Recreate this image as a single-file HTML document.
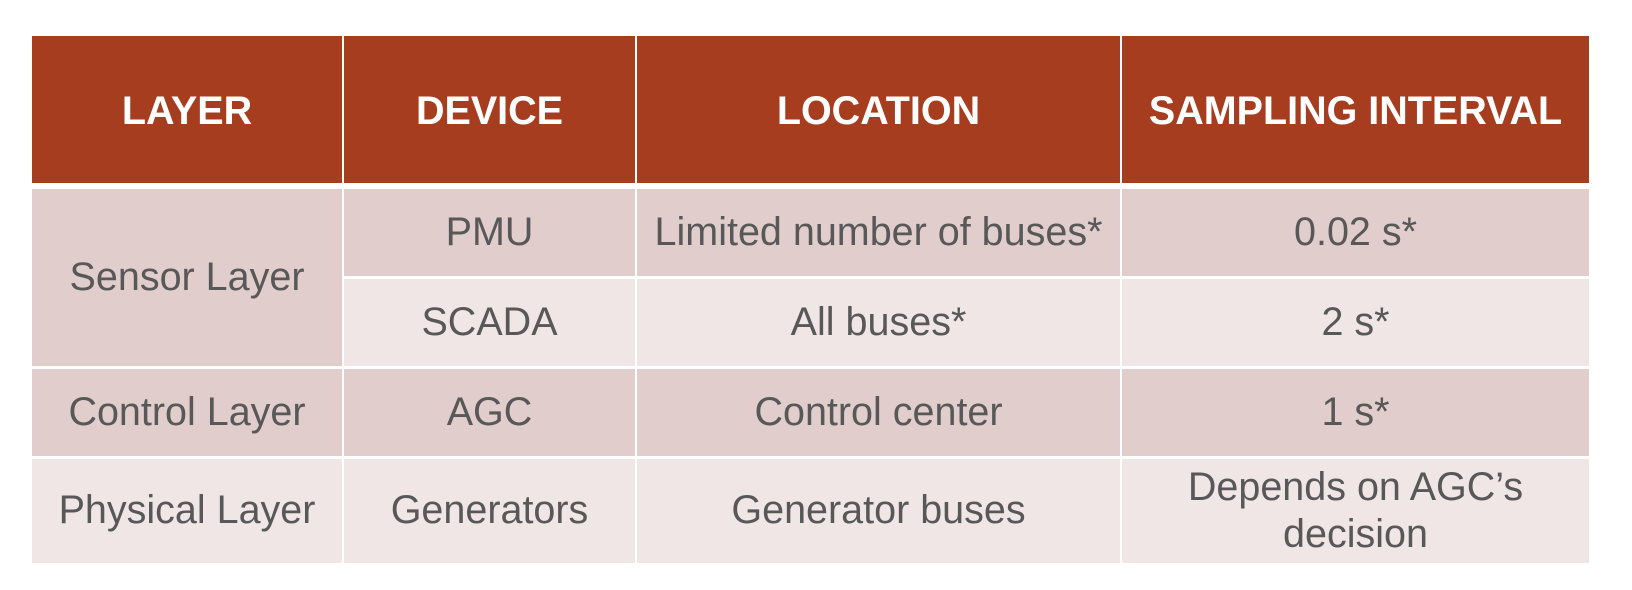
<!DOCTYPE html>
<html><head><meta charset="utf-8"><style>
body{margin:0;width:1632px;height:590px;background:#fff;overflow:hidden;font-family:"Liberation Sans",sans-serif;}
.c{position:absolute;display:flex;align-items:center;justify-content:center;text-align:center;color:#585858;font-size:39.5px;line-height:1.2;}
.h{background:#A63D1F;color:#fff;font-weight:bold;padding-top:4px;box-sizing:border-box;}
.d{background:#E0CDCC;}
.l{background:#F0E6E5;}
</style></head><body>
<div>
<div class="c h" style="left:32px;top:36px;width:310px;height:147px">LAYER</div>
<div class="c h" style="left:344px;top:36px;width:291px;height:147px">DEVICE</div>
<div class="c h" style="left:637px;top:36px;width:483px;height:147px">LOCATION</div>
<div class="c h" style="left:1122px;top:36px;width:467px;height:147px">SAMPLING INTERVAL</div>

<div class="c d" style="left:32px;top:189px;width:310px;height:177px">Sensor Layer</div>
<div class="c d" style="left:344px;top:189px;width:291px;height:87px">PMU</div>
<div class="c d" style="left:637px;top:189px;width:483px;height:87px">Limited number of buses*</div>
<div class="c d" style="left:1122px;top:189px;width:467px;height:87px">0.02 s*</div>

<div class="c l" style="left:344px;top:279px;width:291px;height:87px">SCADA</div>
<div class="c l" style="left:637px;top:279px;width:483px;height:87px">All buses*</div>
<div class="c l" style="left:1122px;top:279px;width:467px;height:87px">2 s*</div>

<div class="c d" style="left:32px;top:369px;width:310px;height:87px">Control Layer</div>
<div class="c d" style="left:344px;top:369px;width:291px;height:87px">AGC</div>
<div class="c d" style="left:637px;top:369px;width:483px;height:87px">Control center</div>
<div class="c d" style="left:1122px;top:369px;width:467px;height:87px">1 s*</div>

<div class="c l" style="left:32px;top:459px;width:310px;height:104px">Physical Layer</div>
<div class="c l" style="left:344px;top:459px;width:291px;height:104px">Generators</div>
<div class="c l" style="left:637px;top:459px;width:483px;height:104px">Generator buses</div>
<div class="c l" style="left:1122px;top:459px;width:467px;height:104px">Depends on AGC’s<br>decision</div>
</div>
</body></html>
